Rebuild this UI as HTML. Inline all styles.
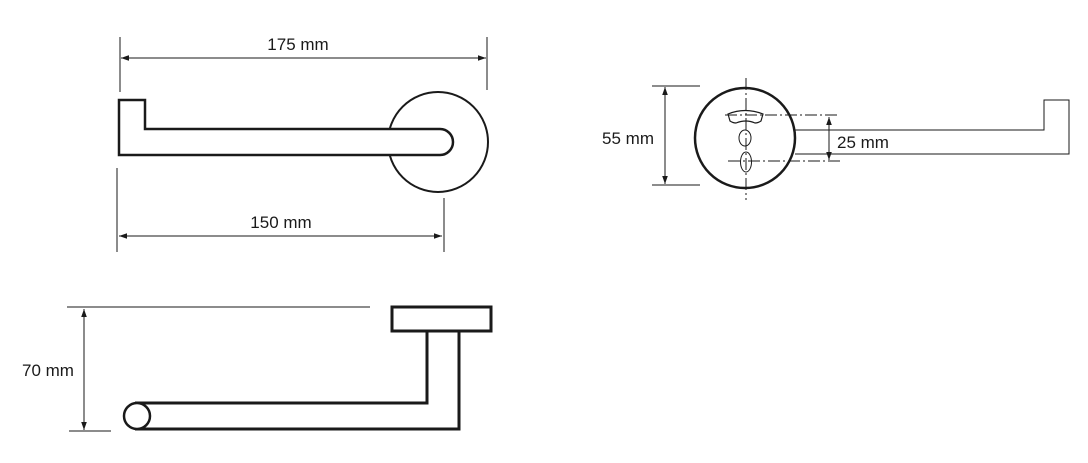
<!DOCTYPE html>
<html><head><meta charset="utf-8"><style>
html,body{margin:0;padding:0;background:#fff;}
svg{display:block;}
text{font-family:"Liberation Sans",sans-serif;font-size:17px;fill:#1a1a1a;}
</style></head><body>
<svg width="1088" height="463" viewBox="0 0 1088 463" xmlns="http://www.w3.org/2000/svg">
<defs>
<marker id="a" viewBox="0 0 10 10" refX="10" refY="5" markerWidth="8" markerHeight="8" orient="auto-start-reverse" markerUnits="userSpaceOnUse"><path d="M0,1.5 L10,5 L0,8.5 Z" fill="#1a1a1a"/></marker>
</defs>
<g stroke="#1a1a1a" fill="none">
<line x1="120" y1="37" x2="120" y2="92" stroke-width="1"/>
<line x1="487" y1="37" x2="487" y2="90" stroke-width="1"/>
<line x1="121" y1="58" x2="486" y2="58" stroke-width="1" marker-start="url(#a)" marker-end="url(#a)"/>
<line x1="117" y1="168" x2="117" y2="252" stroke-width="1"/>
<line x1="444" y1="198" x2="444" y2="252" stroke-width="1"/>
<line x1="119" y1="236" x2="442" y2="236" stroke-width="1" marker-start="url(#a)" marker-end="url(#a)"/>
<circle cx="438" cy="142" r="50" stroke-width="2"/>
<path d="M119,155 L119,100 L145,100 L145,129 L440,129 A13,13 0 0 1 440,155 Z" fill="#fff" stroke-width="2.5"/>
<line x1="652" y1="86" x2="700" y2="86" stroke-width="1"/>
<line x1="652" y1="185" x2="700" y2="185" stroke-width="1"/>
<line x1="665" y1="87" x2="665" y2="184" stroke-width="1" marker-start="url(#a)" marker-end="url(#a)"/>
<path d="M795,130 L1044,130 L1044,100 L1069,100 L1069,154 L795,154" stroke-width="1"/>
<circle cx="745" cy="138" r="50" stroke-width="2.5"/>
<g stroke-width="1" stroke-dasharray="12,3,2,3">
<line x1="746" y1="78" x2="746" y2="200"/>
<line x1="725" y1="115" x2="840" y2="115"/>
<line x1="728" y1="161" x2="840" y2="161"/>
</g>
<line x1="829" y1="117" x2="829" y2="160" stroke-width="1" marker-start="url(#a)" marker-end="url(#a)"/>
<path d="M728,114 Q745,107 763,114 L761,121 Q758,123 755,123 Q746,119 736,123 Q733,123 730,121 Z" stroke-width="1.2"/>
<ellipse cx="745" cy="138" rx="6" ry="8" stroke-width="1"/>
<ellipse cx="746" cy="162" rx="5.5" ry="10" stroke-width="1"/>
<line x1="67" y1="307" x2="370" y2="307" stroke-width="1"/>
<line x1="69" y1="431" x2="111" y2="431" stroke-width="1"/>
<line x1="84" y1="309" x2="84" y2="430" stroke-width="1" marker-start="url(#a)" marker-end="url(#a)"/>
<rect x="392" y="307" width="99" height="24" stroke-width="3"/>
<path d="M135,403 L427,403 L427,331" stroke-width="3"/>
<path d="M135,429 L459,429 L459,331" stroke-width="3"/>
<circle cx="137" cy="416" r="13" stroke-width="2.5" fill="#fff"/>
</g>
<text x="298" y="50" text-anchor="middle">175 mm</text>
<text x="281" y="228" text-anchor="middle">150 mm</text>
<text x="654" y="144" text-anchor="end">55 mm</text>
<text x="837" y="148">25 mm</text>
<text x="22" y="376">70 mm</text>
</svg>
</body></html>
